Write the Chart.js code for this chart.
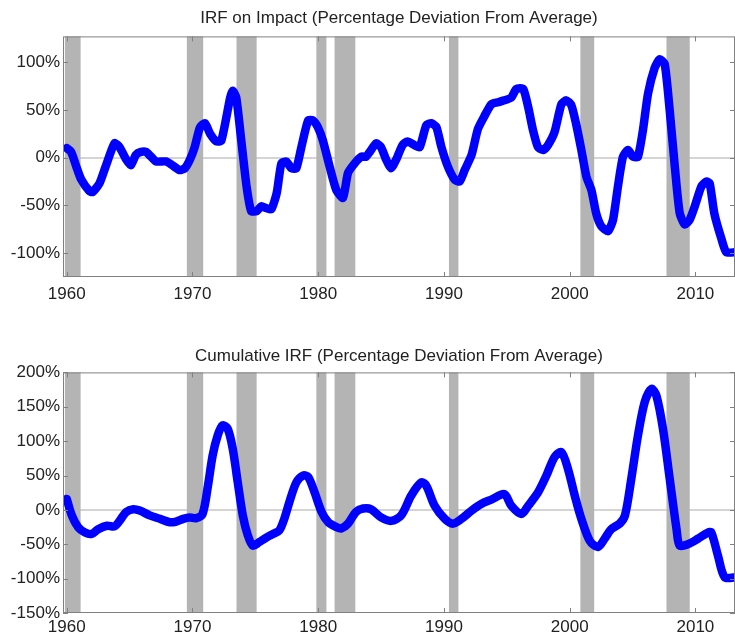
<!DOCTYPE html>
<html>
<head>
<meta charset="utf-8">
<script src="https://cdn.jsdelivr.net/npm/chart.js@4.4.0/dist/chart.umd.min.js"></script>
<style>
  body { margin: 0; background: #fff; }
  #wrap { position: relative; width: 735px; height: 634px; overflow: hidden; }
  .box { position: absolute; left: 0; width: 735px; }
</style>
</head>
<body>
<div id="wrap">
  <div class="box" style="top:0;height:310px"><canvas id="impact"></canvas></div>
  <div class="box" style="top:310px;height:324px"><canvas id="cumul"></canvas></div>
</div>
<script>
// recession periods (shaded)
var recStart = [1959.85, 1969.55, 1973.5, 1979.85, 1981.3, 1990.4, 2000.85, 2007.7];
var recEnd   = [1961.1, 1970.85, 1975.1, 1980.65, 1982.95, 1991.15, 2001.95, 2009.55];

var yearTicks = [1960, 1970, 1980, 1990, 2000, 2010];
var impactTicks = [-100, -50, 0, 50, 100];
var cumulTicks = [-150, -100, -50, 0, 50, 100, 150, 200];

// IRF on impact
var impactYears = [1960.0, 1960.35, 1960.75, 1961.15, 1961.8, 1962.05, 1962.6, 1963.1, 1963.8, 1964.2,
  1964.73, 1965.1, 1965.5, 1965.9, 1966.3, 1966.7, 1967.1, 1967.9, 1968.4, 1968.97,
  1969.4, 1969.8, 1970.17, 1970.6, 1971.0, 1971.4, 1971.9, 1972.3, 1973.0, 1973.2,
  1973.48, 1973.88, 1974.3, 1974.67, 1975.1, 1975.47, 1975.9, 1976.27, 1976.7, 1977.07,
  1977.46, 1977.86, 1978.26, 1978.66, 1979.2, 1979.58, 1979.97, 1980.37, 1980.9, 1981.44,
  1981.97, 1982.37, 1982.9, 1983.43, 1983.8, 1984.1, 1984.6, 1985.0, 1985.4, 1985.8,
  1986.2, 1986.7, 1987.1, 1987.67, 1988.07, 1988.6, 1989.0, 1989.4, 1989.8, 1990.3,
  1990.85, 1991.25, 1991.65, 1992.2, 1992.7, 1993.24, 1993.77, 1994.3, 1994.8, 1995.36,
  1995.76, 1996.3, 1996.7, 1997.08, 1997.48, 1997.9, 1998.27, 1998.8, 1999.34, 1999.74,
  2000.13, 2000.5, 2000.93, 2001.33, 2001.73, 2002.12, 2002.52, 2003.05, 2003.45, 2003.84,
  2004.24, 2004.64, 2005.04, 2005.43, 2005.83, 2006.23, 2006.76, 2007.16, 2007.56, 2007.96,
  2008.36, 2008.75, 2009.15, 2009.55, 2009.95, 2010.48, 2010.88, 2011.14, 2011.5, 2012.07,
  2012.46, 2013.2];
var impactValues = [10, 6, -9, -23, -35, -36, -27, -9, 15, 11,
  -2, -8, 3, 6, 6, 1, -4, -4, -8, -13,
  -11, -2, 11, 32, 36, 25, 17, 18, 63, 70,
  63, 18, -30, -56, -56, -51, -53, -54, -37, -6,
  -4, -11, -11, 11, 39, 39, 32, 18, -9, -34,
  -42, -16, -6, 1, 1, 6, 15, 11, -2, -11,
  -2, 13, 17, 13, 11, 34, 36, 32, 11, -9,
  -23, -25, -13, 3, 30, 44, 56, 58, 60, 63,
  72, 72, 53, 29, 11, 8, 13, 27, 56, 60,
  55, 36, 8, -20, -34, -59, -72, -77, -65, -30,
  1, 8, 1, 1, 29, 67, 94, 103, 98, 49,
  -9, -58, -70, -65, -51, -30, -25, -27, -58, -85,
  -99, -99];

// cumulative IRF
var cumulYears = [1960.0, 1960.4, 1960.9, 1961.45, 1961.98, 1962.5, 1963.2, 1963.8, 1964.2, 1964.73,
  1965.3, 1965.8, 1966.6, 1967.4, 1968.2, 1968.7, 1969.26, 1969.8, 1970.3, 1970.8,
  1971.23, 1971.6, 1972.0, 1972.4, 1972.8, 1973.2, 1973.6, 1974.0, 1974.4, 1974.8,
  1975.3, 1975.9, 1976.4, 1976.9, 1977.3, 1977.7, 1978.26, 1978.8, 1979.2, 1979.7,
  1980.27, 1980.8, 1981.44, 1981.84, 1982.37, 1983.0, 1983.57, 1984.2, 1985.0, 1985.8,
  1986.6, 1987.4, 1988.2, 1988.6, 1989.26, 1990.06, 1990.7, 1991.4, 1992.2, 1993.0,
  1993.77, 1994.8, 1995.36, 1996.16, 1996.7, 1997.5, 1998.15, 1998.8, 1999.34, 1999.86,
  2000.4, 2000.93, 2001.6, 2002.25, 2002.78, 2003.3, 2003.98, 2004.4, 2004.9, 2005.43,
  2005.97, 2006.5, 2006.9, 2007.42, 2007.96, 2008.5, 2008.75, 2009.4, 2010.2, 2011.0,
  2011.27, 2011.8, 2012.33, 2013.2];
var cumulValues = [16, -8, -25, -33, -35, -28, -23, -24, -16, -3,
  1, -1, -8, -13, -18, -17, -13, -11, -12, -6,
  35, 79, 108, 123, 118, 89, 40, -8, -37, -52,
  -47, -40, -35, -30, -13, 11, 40, 50, 48, 26,
  -3, -18, -25, -27, -20, -3, 2, 1, -11, -16,
  -8, 21, 40, 35, 6, -13, -20, -13, -1, 9,
  15, 23, 6, -6, 6, 26, 50, 77, 84, 60,
  21, -13, -45, -54, -42, -28, -20, -8, 45, 108,
  157, 176, 166, 118, 45, -28, -52, -50, -42, -33,
  -33, -67, -98, -98];

var FONT = 'Liberation Sans, Arial, sans-serif';

var recessionPlugin = {
  id: 'recessions',
  beforeDatasetsDraw: function (chart) {
    var ctx = chart.ctx, area = chart.chartArea, x = chart.scales.x;
    ctx.save();
    ctx.fillStyle = '#b4b4b4';
    for (var i = 0; i < recStart.length; i++) {
      var x0 = x.getPixelForValue(recStart[i]);
      var x1 = x.getPixelForValue(recEnd[i]);
      ctx.fillRect(x0, area.top, x1 - x0, area.bottom - area.top);
    }
    ctx.restore();
  },
  afterDatasetsDraw: function (chart) {
    var ctx = chart.ctx, a = chart.chartArea, x = chart.scales.x, y = chart.scales.y;
    ctx.save();
    ctx.strokeStyle = '#808080';
    ctx.lineWidth = 1;
    ctx.strokeRect(a.left + 0.5, a.top + 0.5, a.right - a.left - 1, a.bottom - a.top - 1);
    ctx.beginPath();
    yearTicks.forEach(function (v) {
      var px = Math.round(x.getPixelForValue(v)) + 0.5;
      ctx.moveTo(px, a.bottom); ctx.lineTo(px, a.bottom - 5);
      ctx.moveTo(px, a.top); ctx.lineTo(px, a.top + 5);
    });
    y.ticks.forEach(function (t) {
      var py = Math.round(y.getPixelForValue(t.value)) + 0.5;
      ctx.moveTo(a.left, py); ctx.lineTo(a.left + 5, py);
      ctx.moveTo(a.right, py); ctx.lineTo(a.right - 5, py);
    });
    ctx.stroke();
    ctx.restore();
  }
};

function makeChart(id, title, years, values, yTicks, yMin, yMax, opts) {
  var pts = years.map(function (yr, i) { return { x: yr, y: values[i] }; });
  return new Chart(document.getElementById(id), {
    type: 'line',
    data: {
      datasets: [{
        data: pts,
        borderColor: '#0000ff',
        borderWidth: 8.5,
        borderJoinStyle: 'round',
        borderCapStyle: 'round',
        pointRadius: 0,
        tension: opts.tension
      }]
    },
    options: {
      responsive: true,
      maintainAspectRatio: false,
      animation: false,
      layout: { padding: { left: 0, right: 0, top: 0, bottom: 0 } },
      plugins: {
        legend: { display: false },
        tooltip: { enabled: false },
        title: {
          display: true,
          text: title,
          fullSize: false,
          color: '#222',
          font: { family: FONT, size: 17, weight: 'normal' },
          padding: { top: opts.titleTop, bottom: opts.titleBottom }
        }
      },
      scales: {
        x: {
          type: 'linear',
          min: 1959.7,
          max: 2013.15,
          grid: { display: false, drawTicks: false },
          border: { display: false },
          afterBuildTicks: function (s) { s.ticks = yearTicks.map(function (v) { return { value: v }; }); },
          afterFit: function (s) { s.height = opts.xHeight; },
          ticks: {
            color: '#222',
            padding: opts.xPad,
            maxRotation: 0,
            font: { family: FONT, size: 17 },
            callback: function (v) { return String(v); }
          }
        },
        y: {
          min: yMin,
          max: yMax,
          border: { display: false },
          grid: {
            drawTicks: false,
            color: function (c) { return c.tick && c.tick.value === 0 ? '#d4d4d4' : 'rgba(0,0,0,0)'; },
            lineWidth: 2
          },
          afterBuildTicks: function (s) { s.ticks = yTicks.map(function (v) { return { value: v }; }); },
          afterFit: function (s) { s.width = 63; },
          ticks: {
            color: '#222',
            padding: 3,
            font: { family: FONT, size: 17 },
            callback: function (v) { return v + '%'; }
          }
        }
      }
    },
    plugins: [recessionPlugin]
  });
}

makeChart('impact', 'IRF on Impact (Percentage Deviation From Average)',
  impactYears, impactValues, impactTicks, -125, 127,
  { tension: 0.2, titleTop: 8, titleBottom: 8, xHeight: 33, xPad: 7 });

makeChart('cumul', 'Cumulative IRF (Percentage Deviation From Average)',
  cumulYears, cumulValues, cumulTicks, -150, 200,
  { tension: 0.3, titleTop: 36, titleBottom: 6, xHeight: 21, xPad: 4 });
</script>
</body>
</html>
